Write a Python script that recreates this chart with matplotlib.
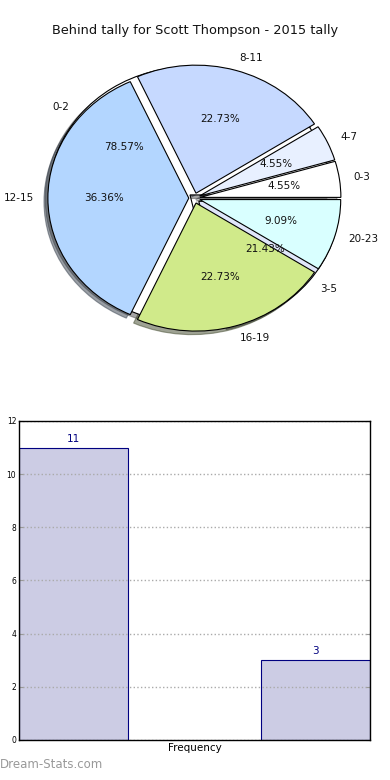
import matplotlib
matplotlib.use("Agg")
import matplotlib.pyplot as plt

title = "Behind tally for Scott Thompson - 2015 tally"

# Pie 1 (hour ranges, 22 total)
pie1_labels = ["0-3", "4-7", "8-11", "12-15", "16-19", "20-23"]
pie1_values = [1, 1, 5, 8, 5, 2]
pie1_colors = ["#ffffff", "#e8f0ff", "#c6d9ff", "#b3d6ff", "#d0ea8a", "#d9ffff"]

# Pie 2 (underlying, 14 total)
pie2_labels = ["0-2", "3-5"]
pie2_values = [11, 3]
pie2_colors = ["#ffffff", "#e0e6fa"]

# Bar chart
bar_values = [11, 3]
bar_pos = [0, 1]
yticks = [0, 2, 4, 6, 8, 10, 12]

fig = plt.figure(figsize=(3.9, 7.8), dpi=100)

ax = fig.add_axes([0.065, 0.549, 0.867, 0.394])

wp = dict(edgecolor="black", linewidth=0.8)
tp = dict(fontsize=7.5, color="#111111")
ax.pie(pie2_values, labels=pie2_labels, colors=pie2_colors, explode=[0.04, 0.04],
       autopct="%.2f%%", shadow=True, startangle=0, labeldistance=1.1,
       pctdistance=0.6, wedgeprops=wp, textprops=tp, frame=True)
ax.pie(pie1_values, labels=pie1_labels, colors=pie1_colors,
       explode=[0.04] * 6, autopct="%.2f%%", shadow=True, startangle=0,
       labeldistance=1.1, pctdistance=0.6, wedgeprops=wp, textprops=tp, frame=True)
ax.set_xlim(-1.2, 1.2)
ax.set_ylim(-1.2, 1.2)
ax.set_aspect("auto")
ax.axis("off")
fig.text(0.5, 0.961, title, ha="center", va="center", fontsize=9.3, color="#111111")

bx = fig.add_axes([0.0487, 0.0513, 0.9, 0.409])
bx.bar(bar_pos, bar_values, width=0.45, align="edge", color="#cccce4",
       edgecolor="#000080", linewidth=0.8, zorder=2)
for x, v in zip(bar_pos, bar_values):
    bx.text(x + 0.225, v + 0.15, str(v), ha="center", va="bottom", fontsize=7.5,
            color="#000080")
bx.set_xlim(0, 1.45)
bx.set_ylim(0, 12)
bx.set_yticks(yticks)
bx.set_yticklabels([str(t) for t in yticks])
bx.set_xticks([])
bx.tick_params(axis="y", labelsize=5.5, length=3, color="#999999", right=True,
               direction="in", pad=2)
bx.set_axisbelow(False)
bx.yaxis.grid(True, linestyle=":", color="#aaaaaa", linewidth=1.0)
bx.set_xlabel("Frequency", fontsize=7.5, labelpad=2)
bx.set_ylabel("Behind tally", fontsize=7.5)
bx.yaxis.set_label_coords(-0.06, 0.5)
for s in bx.spines.values():
    s.set_linewidth(1.0)
    s.set_zorder(3)

fig.text(0.0, 0.011, "Dream-Stats.com", fontsize=8.5, color="#999999", ha="left",
         va="bottom")

fig.savefig("out.png", dpi=100)
